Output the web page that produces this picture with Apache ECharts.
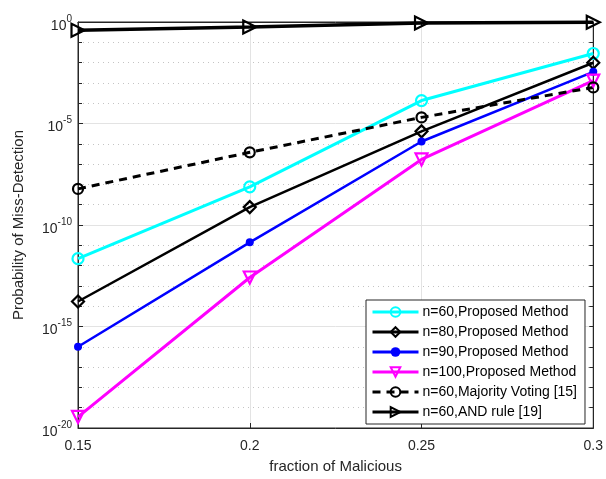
<!DOCTYPE html>
<html>
<head>
<meta charset="utf-8">
<script src="https://cdn.jsdelivr.net/npm/echarts@6/dist/echarts.min.js"></script>
<style>html,body{margin:0;padding:0;background:#fff;}#c{width:606px;height:479px;}</style>
</head>
<body>
<div id="c"></div>
<script>
var xValues = [0.15, 0.2, 0.25, 0.3];
var seriesNames = ['n=60,Proposed Method', 'n=80,Proposed Method', 'n=90,Proposed Method', 'n=100,Proposed Method', 'n=60,Majority Voting [15]', 'n=60,AND rule [19]'];
var n60Proposed = [2.2e-12, 7.6e-9, 1.35e-4, 2.8e-2];
var n80Proposed = [1.7e-14, 7.6e-10, 4.1e-6, 9.8e-3];
var n90Proposed = [1.0e-16, 1.4e-11, 1.3e-6, 3.5e-3];
var n100Proposed = [3.5e-20, 2.6e-13, 1.7e-7, 1.3e-3];
var n60Majority = [6.0e-9, 3.8e-7, 2.0e-5, 6.0e-4];
var n60AndRule = [0.39, 0.57, 0.89, 0.98];
var yTickExponents = [-20, -15, -10, -5, 0];

var FONT = '"Liberation Sans", Arial, Helvetica, sans-serif';
var TXT = '#262626';

function pairs(vals) { return xValues.map(function (x, i) { return [x, vals[i]]; }); }

function mk(name, vals, color, symbol, size, rotate, width, dashed, filled) {
  return {
    name: name, type: 'line', data: pairs(vals), clip: false,
    symbol: symbol, symbolSize: size, symbolRotate: rotate || 0,
    showAllSymbol: true,
    lineStyle: { color: color, width: width, type: dashed ? [8, 6] : 'solid' },
    itemStyle: { color: filled ? color : 'rgba(255,255,255,0)', borderColor: color, borderWidth: filled ? 0 : 2.2 },
    emphasis: { disabled: true },
    z: 3
  };
}

var chart = echarts.init(document.getElementById('c'), null, { renderer: 'canvas' });
var yLabelFmt = function (v) {
  var e = Math.round(Math.log10(v));
  if (yTickExponents.indexOf(e) < 0) return '';
  return '{b|10}{s|' + e + '}';
};
var richLab = {
  b: { fontSize: 14, color: TXT, fontFamily: FONT, padding: [8, 0, 0, 0] },
  s: { fontSize: 10, color: TXT, fontFamily: FONT, padding: [0, 0, 6, 0] }
};

chart.setOption({
  animation: false,
  backgroundColor: '#fff',
  textStyle: { fontFamily: FONT },
  grid: { left: 78, right: 10, top: 22, bottom: 49, show: true, borderColor: TXT, borderWidth: 1, backgroundColor: '#fff' },
  legend: {
    orient: 'vertical', left: 366, top: 300,
    padding: [5, 8, 5, 5],
    itemWidth: 46, itemHeight: 12, itemGap: 6,
    backgroundColor: '#fff', borderColor: '#262626', borderWidth: 1,
    lineStyle: { width: 3 },
    textStyle: { fontSize: 14, color: '#000', fontFamily: FONT, padding: [0, 0, 0, -1] },
    data: seriesNames
  },
  xAxis: [{
    type: 'value', min: 0.15, max: 0.3, interval: 0.05,
    name: 'fraction of Malicious', nameLocation: 'middle', nameGap: 31,
    nameTextStyle: { fontSize: 15, color: TXT, fontFamily: FONT },
    axisLine: { show: true, lineStyle: { color: TXT } },
    axisTick: { show: true, inside: true, length: 5, lineStyle: { color: TXT } },
    axisLabel: { fontSize: 14, color: TXT, fontFamily: FONT, margin: 11, formatter: function (v) { return String(+v.toFixed(2)); } },
    splitLine: { show: true, lineStyle: { color: '#e3e3e3', width: 1 } }
  }, {
    type: 'value', min: 0.15, max: 0.3, interval: 0.05, position: 'top',
    axisLine: { show: true, lineStyle: { color: TXT } },
    axisTick: { show: true, inside: true, length: 5, lineStyle: { color: TXT } },
    axisLabel: { show: false }, splitLine: { show: false }
  }],
  yAxis: [{
    type: 'log', logBase: 10, min: 1e-20, max: 1, interval: 1,
    name: 'Probability of Miss-Detection', nameLocation: 'middle', nameGap: 52,
    nameTextStyle: { fontSize: 15, color: TXT, fontFamily: FONT },
    axisLine: { show: true, lineStyle: { color: TXT } },
    axisTick: { show: true, inside: true, length: 4, lineStyle: { color: TXT } },
    axisLabel: { margin: 6, formatter: yLabelFmt, rich: richLab, showMinLabel: true, showMaxLabel: true, interval: 0 },
    splitLine: { show: true, lineStyle: { color: '#c4c4c4', width: 1, type: [1, 4] } }
  }, {
    type: 'log', logBase: 10, min: 1e-20, max: 1, interval: 1, position: 'right',
    axisLine: { show: true, lineStyle: { color: TXT } },
    axisTick: { show: true, inside: true, length: 4, lineStyle: { color: TXT } },
    axisLabel: { show: false }, splitLine: { show: false }
  }, {
    type: 'log', logBase: 10, min: 1e-20, max: 1, interval: 5, position: 'left',
    axisLine: { show: false },
    axisTick: { show: true, inside: true, length: 5, lineStyle: { color: TXT } },
    axisLabel: { show: false },
    splitLine: { show: true, lineStyle: { color: '#e3e3e3', width: 1 } }
  }],
  series: [
    mk(seriesNames[0], n60Proposed, '#00FFFF', 'circle', 11, 0, 3, false, false),
    mk(seriesNames[1], n80Proposed, '#000000', 'diamond', 12, 0, 2.5, false, false),
    mk(seriesNames[2], n90Proposed, '#0000FF', 'circle', 8, 0, 2.5, false, true),
    mk(seriesNames[3], n100Proposed, '#FF00FF', 'triangle', 12, 180, 3, false, false),
    mk(seriesNames[4], n60Majority, '#000000', 'circle', 10, 0, 3, true, false),
    mk(seriesNames[5], n60AndRule, '#000000', 'triangle', 13, -90, 3.5, false, false)
  ]
});
</script>
</body>
</html>
